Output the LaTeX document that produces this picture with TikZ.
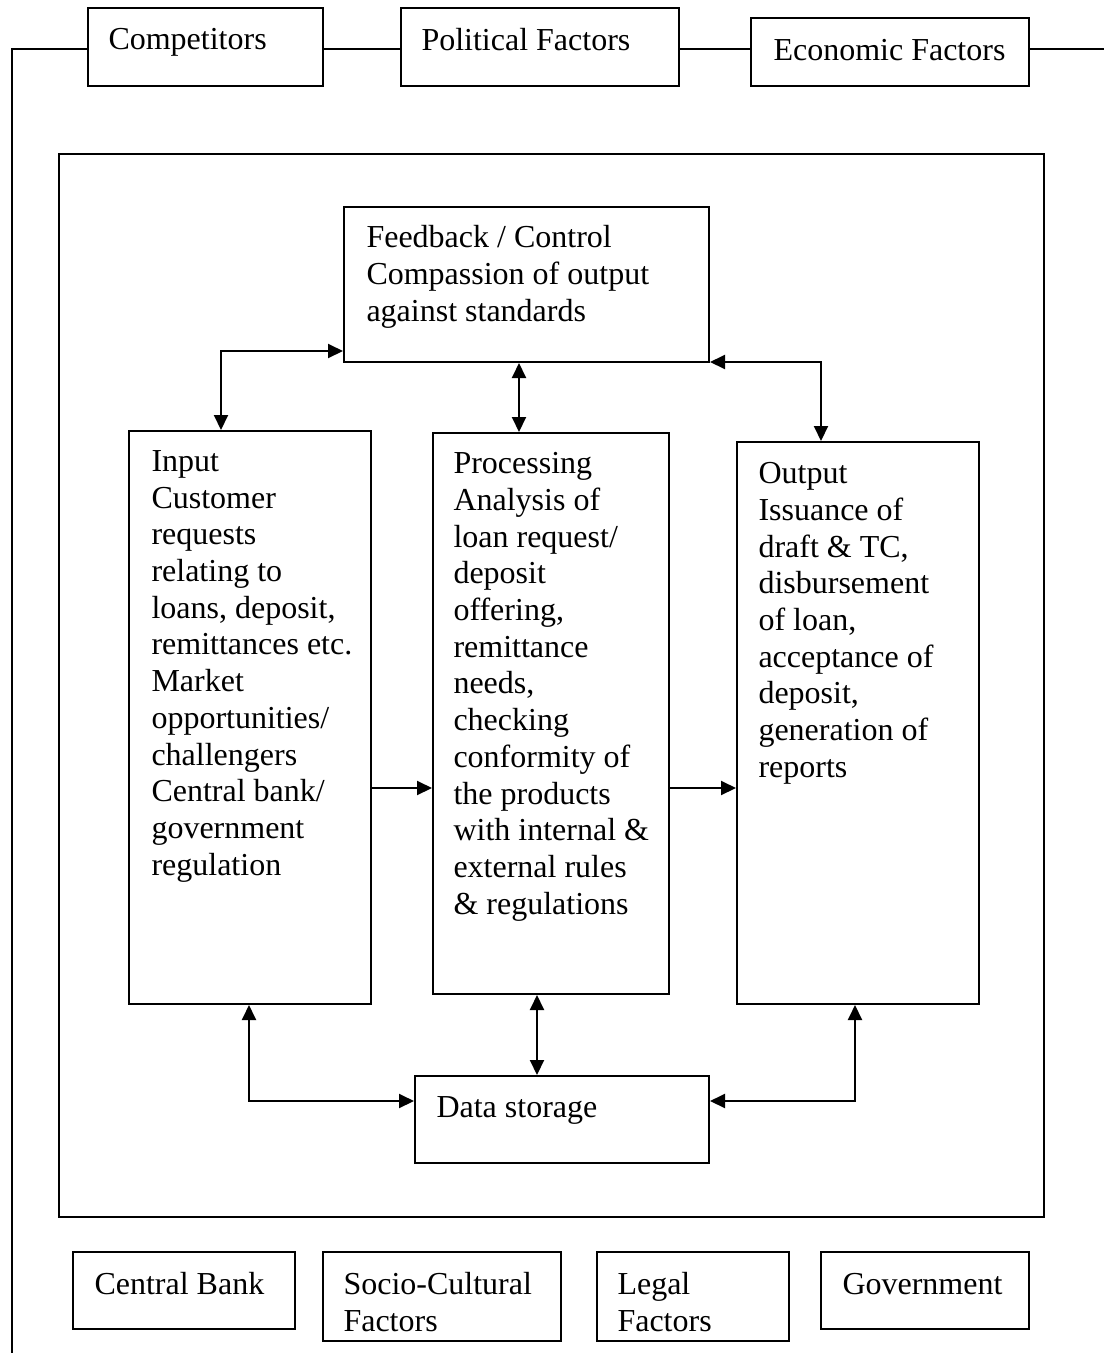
\documentclass[tikz,border=0pt]{standalone}
\usepackage{fontspec}
\setmainfont{Liberation Serif}
\usetikzlibrary{arrows.meta,fit}

\begin{document}
\begin{tikzpicture}[x=0.4pt,y=-0.4pt,
  box/.style={draw, line width=0.8pt, inner sep=0pt},
  txt/.style={anchor=north west, inner sep=0pt, align=left, yshift=-0.8pt,
              font=\fontsize{12.8}{14.68}\selectfont},
  link/.style={line width=0.8pt},
  tip/.tip={Triangle[length=6pt,width=5.6pt]},
  arr/.style={link, tip-tip},
  onearr/.style={link, -tip}
]
\useasboundingbox (0,0) rectangle (1104,1353);

% environment factors along the top
\node[box, fit={(88,8) (323,86)}] (comp) {};
\node[box, fit={(401,8) (679,86)}] (pol) {};
\node[box, fit={(751,18) (1029,86)}] (eco) {};
\node[txt] (compt) at (108,26) {Competitors};
\node[txt] (polt) at (421,26) {Political Factors};
\node[txt] (ecot) at (773,37) {Economic Factors};

% frame line linking the top factors
\coordinate (tl) at (12,49);
\coordinate (bl) at (12,1353);
\coordinate (tr) at (1104,49);
\draw[link] (bl) -- (tl) -- (comp.west |- tl);
\draw[link] (comp.east |- tl) -- (pol.west |- tl);
\draw[link] (pol.east |- tl) -- (eco.west |- tl);
\draw[link] (eco.east |- tl) -- (tr);

% the bank system
\node[box, fit={(59,154) (1044,1217)}] (sys) {};

\node[box, fit={(344,207) (709,362)}] (fb) {};
\node[txt] (fbt) at (366,223) {Feedback / Control\\Compassion of output\\against standards};

\node[box, fit={(129,431) (371,1004)}] (in) {};
\node[txt] (int) at (151,448) {Input\\Customer\\requests\\relating to\\loans, deposit,\\remittances etc.\\Market\\opportunities/\\challengers\\Central bank/\\government\\regulation};

\node[box, fit={(433,433) (669,994)}] (proc) {};
\node[txt] (proct) at (453,450) {Processing\\Analysis of\\loan request/\\deposit\\offering,\\remittance\\needs,\\checking\\conformity of\\the products\\with internal \&\\external rules\\\& regulations};

\node[box, fit={(737,442) (979,1004)}] (out) {};
\node[txt] (outt) at (758,460) {Output\\Issuance of\\draft \& TC,\\disbursement\\of loan,\\acceptance of\\deposit,\\generation of\\reports};

\node[box, fit={(415,1076) (709,1163)}] (data) {};
\node[txt] (datat) at (436,1094) {Data storage};

% connectors inside the system
\coordinate (cif) at (221,351);
\draw[arr] (in.north -| cif) -- (cif) -- (fb.west |- cif);
\coordinate (cpf) at (519,0);
\draw[arr] (fb.south -| cpf) -- (proc.north -| cpf);
\coordinate (cfo) at (821,362);
\draw[arr] (fb.east |- cfo) -- (cfo) -- (out.north -| cfo);

\coordinate (ch) at (0,788);
\draw[onearr] (in.east |- ch) -- (proc.west |- ch);
\draw[onearr] (proc.east |- ch) -- (out.west |- ch);

\coordinate (cid) at (249,1101);
\draw[arr] (in.south -| cid) -- (cid) -- (data.west |- cid);
\coordinate (cpd) at (537,0);
\draw[arr] (proc.south -| cpd) -- (data.north -| cpd);
\coordinate (cod) at (855,1101);
\draw[arr] (out.south -| cod) -- (cod) -- (data.east |- cod);

% environment factors along the bottom
\node[box, fit={(73,1252) (295,1329)}] (cb) {};
\node[box, fit={(323,1252) (561,1341)}] (sc) {};
\node[box, fit={(597,1252) (789,1341)}] (legal) {};
\node[box, fit={(821,1252) (1029,1329)}] (gov) {};
\node[txt] (cbt) at (94,1270) {Central Bank};
\node[txt] (sct) at (343,1270) {Socio-Cultural\\Factors};
\node[txt] (legalt) at (617,1270) {Legal\\Factors};
\node[txt] (govt) at (842,1271) {Government};

\end{tikzpicture}
\end{document}
